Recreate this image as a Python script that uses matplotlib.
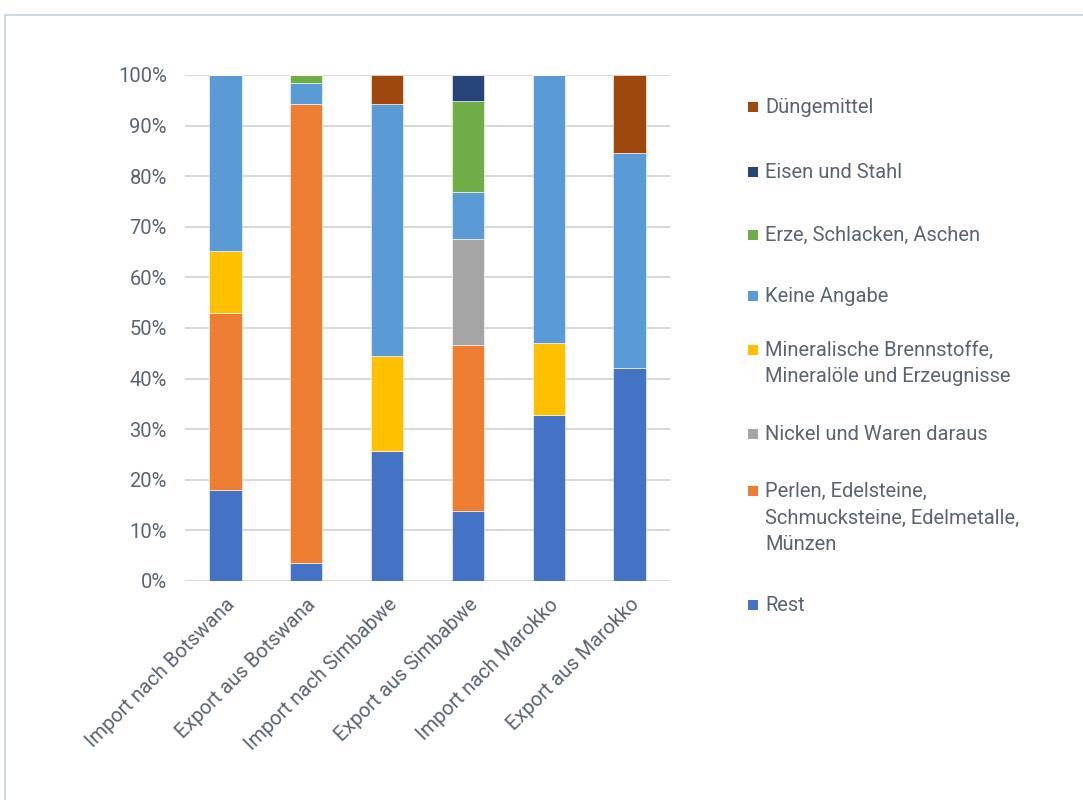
import matplotlib
matplotlib.use("Agg")
import matplotlib.pyplot as plt
from matplotlib.patches import Rectangle
import numpy as np

plt.rcParams['font.family'] = ['Roboto', 'DejaVu Sans']

categories = ["Import nach Botswana", "Export aus Botswana", "Import nach Simbabwe",
              "Export aus Simbabwe", "Import nach Marokko", "Export aus Marokko"]

# shares in percent, bottom to top
rest       = [18.0, 3.6, 25.7, 13.9, 32.8, 42.1]
perlen     = [35.0, 90.6, 0.0, 32.8, 0.0, 0.0]
nickel     = [0.0, 0.0, 0.0, 20.9, 0.0, 0.0]
mineral    = [12.2, 0.0, 18.8, 0.0, 14.3, 0.0]
keine      = [34.8, 4.2, 49.7, 9.2, 52.9, 42.4]
erze       = [0.0, 1.6, 0.0, 18.1, 0.0, 0.0]
eisen      = [0.0, 0.0, 0.0, 5.1, 0.0, 0.0]
duenge     = [0.0, 0.0, 5.8, 0.0, 0.0, 15.5]

series = [
    ("Rest", rest, "#4472C4"),
    ("Perlen, Edelsteine,\nSchmucksteine, Edelmetalle,\nMünzen", perlen, "#ED7D31"),
    ("Nickel und Waren daraus", nickel, "#A5A5A5"),
    ("Mineralische Brennstoffe,\nMineralöle und Erzeugnisse", mineral, "#FFC000"),
    ("Keine Angabe", keine, "#5B9BD5"),
    ("Erze, Schlacken, Aschen", erze, "#70AD47"),
    ("Eisen und Stahl", eisen, "#264478"),
    ("Düngemittel", duenge, "#9E480E"),
]

W, H = 1083, 800
fig = plt.figure(figsize=(W/100, H/100), dpi=100)
text_color = "#5A6470"
fs = 14.5
fw = 'normal'

# outer frame
fig.patches.append(Rectangle((5/W, -0.1), 1.2, (H-15)/H + 0.1, transform=fig.transFigure,
                             fill=False, edgecolor="#C5CED8", linewidth=1.2))

ax = fig.add_axes([185/W, 1 - 581/H, (670-185)/W, (581-75)/H])
x = np.arange(len(categories))
bottom = np.zeros(len(categories))
for name, vals, col in series:
    v = np.array(vals)
    ax.bar(x, v, 0.4, bottom=bottom, color=col, edgecolor="white", linewidth=0.4, zorder=3)
    bottom += v

ax.set_xlim(-0.5, 5.5)
ax.set_ylim(0, 100)
ax.set_yticks(np.arange(0, 101, 10))
ax.set_yticklabels([f"{v}%" for v in range(0, 101, 10)], fontsize=fs, color=text_color,
                   fontweight=fw)
ax.yaxis.grid(True, color="#D9D9D9", linewidth=1.5, zorder=0)
ax.set_axisbelow(True)
for s in ax.spines.values():
    s.set_visible(False)
ax.tick_params(axis='both', length=0)
ax.tick_params(axis='y', pad=13)
ax.set_xticks(x)
ax.set_xticklabels(categories, rotation=45, ha='right', rotation_mode='anchor',
                   fontsize=fs, color=text_color, fontweight=fw)
ax.tick_params(axis='x', pad=10)

# legend (top to bottom)
legend_y = [107, 172, 235, 296, 350, 434, 491, 605]
for (name, vals, col), yy in zip(series[::-1], legend_y):
    fig.patches.append(Rectangle((748/W, 1 - (yy + 5)/H), 10/W, 10/H,
                                 transform=fig.transFigure, facecolor=col, edgecolor='none'))
    fig.text(765/W, 1 - (yy - 9)/H, name, fontsize=fs, color=text_color, va='top',
             ha='left', linespacing=1.5, fontweight=fw, transform=fig.transFigure)

fig.savefig("out.png", dpi=100)
